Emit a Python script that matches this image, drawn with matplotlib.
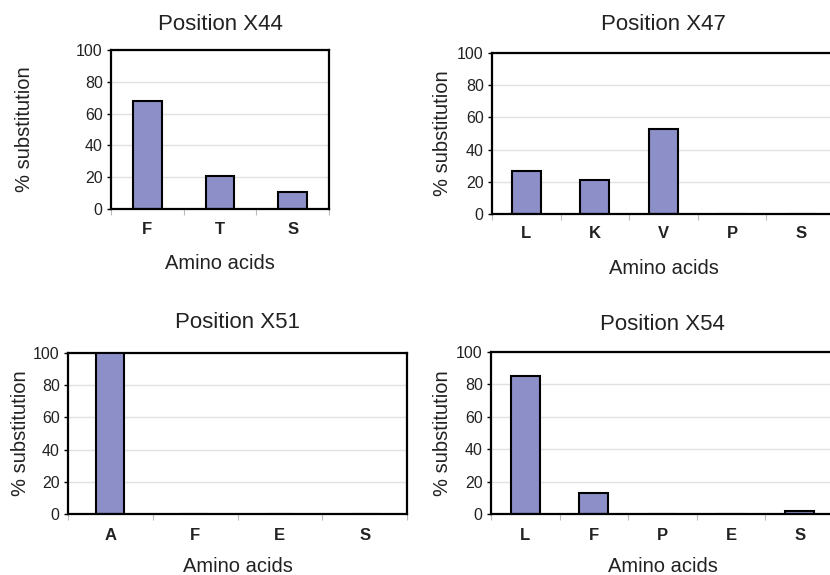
import matplotlib
matplotlib.use("Agg")
import matplotlib.pyplot as plt
import numpy as np

plt.rcParams['font.family'] = ['Liberation Sans', 'DejaVu Sans']

# data
titles = ["Position X44", "Position X47", "Position X51", "Position X54"]
aa_x44 = ["F", "T", "S"]
pct_x44 = [68, 21, 11]
aa_x47 = ["L", "K", "V", "P", "S"]
pct_x47 = [27, 21, 53, 0, 0]
aa_x51 = ["A", "F", "E", "S"]
pct_x51 = [100, 0, 0, 0]
aa_x54 = ["L", "F", "P", "E", "S"]
pct_x54 = [85, 13, 0, 0, 2]
yticks = [0, 20, 40, 60, 80, 100]

W, H = 830, 575
BAR = "#8c8fc8"

fig = plt.figure(figsize=(W / 100, H / 100), dpi=100)


def px_axes(x0, y0, x1, y1):
    # box given in pixels from top-left of the picture
    return fig.add_axes([x0 / W, 1 - y1 / H, (x1 - x0) / W, (y1 - y0) / H])


def fig_text(x, y, s, **kw):
    fig.text(x / W, 1 - y / H, s, ha="center", va="center", **kw)


def panel(box, cats, vals, title, width, title_y, ylab_x, tick_dy, xlab_dy):
    x0, y0, x1, y1 = box
    ax = px_axes(x0, y0, x1, y1)
    pos = np.arange(len(cats))
    ax.bar(pos, vals, width=width, color=BAR, edgecolor="black", linewidth=1.5, zorder=3)
    ax.set_xlim(-0.5, len(cats) - 0.5)
    ax.set_ylim(0, 100)
    ax.set_yticks(yticks)
    ax.set_yticklabels([str(v) for v in yticks], fontsize=11.5, color="#222222")
    ax.set_xticks(pos)
    ax.set_xticklabels([])
    ax.set_xticks(np.arange(len(cats) + 1) - 0.5, minor=True)
    ax.tick_params(axis="x", which="major", length=0)
    ax.tick_params(axis="x", which="minor", length=4, color="#bbbbbb", width=0.8)
    ax.tick_params(axis="y", length=3, width=1, pad=3)
    ax.grid(axis="y", color="#e4e0e0", linewidth=1, zorder=0)
    for sp in ax.spines.values():
        sp.set_linewidth(1.6)
        sp.set_color("black")
    ax.spines["bottom"].set_zorder(4)
    # category labels sit under the middle of each slot
    for p, c in zip(pos, cats):
        xp = x0 + (p + 0.5) / len(cats) * (x1 - x0)
        fig_text(xp, y1 + tick_dy, c, fontsize=12, fontweight="bold", color="#222222")
    fig_text((x0 + x1) / 2, title_y, title, fontsize=16, color="#222222")
    fig_text((x0 + x1) / 2, y1 + xlab_dy, "Amino acids", fontsize=14.5, color="#222222")
    fig_text(ylab_x, (y0 + y1) / 2, "% substitution", fontsize=14.5, rotation=90, color="#222222")
    return ax


panel((111, 50, 329, 209), aa_x44, pct_x44, titles[0], 0.39, 25, 25, 21, 54)
panel((492, 53, 835, 214), aa_x47, pct_x47, titles[1], 0.42, 25, 442, 20, 55)
panel((68, 353, 407, 514), aa_x51, pct_x51, titles[2], 0.33, 323, 20, 21, 53)
panel((491, 352, 834, 514), aa_x54, pct_x54, titles[3], 0.42, 325, 442, 21, 53)

fig.savefig("out.png", dpi=100, facecolor="white")
